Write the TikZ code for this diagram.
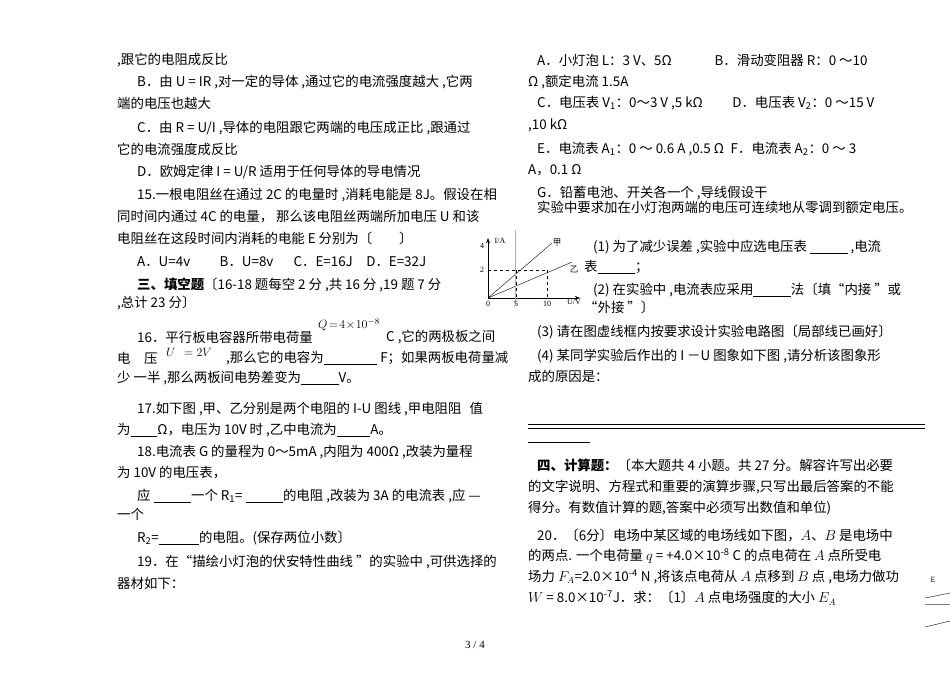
\documentclass[tikz,border=0pt]{standalone}
\usepackage{fontspec}
\setmainfont{Noto Sans CJK SC}
\newfontfamily\serif{Liberation Serif}
\usetikzlibrary{arrows.meta}
\newcommand{\blank}[1]{\underline{\hspace{#1}}}
\begin{document}
\begin{tikzpicture}[x=1pt,y=-1pt,
    tline/.style={anchor=west,inner sep=0pt,font=\fontsize{13.4}{15}\selectfont},
    small/.style={inner sep=1pt,font=\serif\fontsize{8}{9}\selectfont},
    axisline/.style={-Stealth,line width=0.5pt},
    guide/.style={dashed,line width=0.4pt}]
  \useasboundingbox (0,0) rectangle (950,672);
  % left column
  \node[tline] (l1) at (117,60) {,跟它的电阻成反比};
  \node[tline] (l2) at (137,82) {B．由 U = IR ,对一定的导体 ,通过它的电流强度越大 ,它两};
  \node[tline] (l3) at (117,103) {端的电压也越大};
  \node[tline] (l4) at (137,128) {C．由 R = U/I ,导体的电阻跟它两端的电压成正比 ,跟通过};
  \node[tline] (l5) at (117,149) {它的电流强度成反比};
  \node[tline] (l6) at (137,172) {D．欧姆定律 I = U/R 适用于任何导体的导电情况};
  \node[tline] (l7) at (137,195) {15.一根电阻丝在通过 2C 的电量时 ,消耗电能是 8J。假设在相};
  \node[tline] (l8) at (117,217) {同时间内通过 4C 的电量， 那么该电阻丝两端所加电压 U 和该};
  \node[tline] (l9) at (117,238) {电阻丝在这段时间内消耗的电能 E 分别为〔\hspace{2em}〕};
  \node[tline] (l10) at (137,262) {A．U=4v\hspace{2.2em}B．U=8v\hspace{1.5em}C．E=16J\hspace{1em}D．E=32J};
  \node[tline] (l11) at (137,285) {\textbf{三、填空题}〔16-18 题每空 2 分 ,共 16 分 ,19 题 7 分};
  \node[tline] (l12) at (117,303) {,总计 23 分〕};
  \node[tline] (l13) at (137,337) {16．平行板电容器所带电荷量};
  \node[anchor=west,inner sep=0pt,font=\fontsize{13}{14}\selectfont] (q) at (318,325) {$Q\!=\!4\!\times\!10^{-8}$};
  \node[tline] (l13b) at (386,337) {C ,它的两极板之间};
  \node[tline] (l14) at (117,358) {电\hspace{1em}压};
  \node[anchor=west,inner sep=0pt,font=\fontsize{12}{13}\selectfont] (u) at (166,352) {$U\ \ =2V$};
  \node[tline] (l14b) at (226,358) {,那么它的电容为\blank{4em} F；如果两板电荷量减};
  \node[tline] (l15) at (117,378) {少 一半 ,那么两板间电势差变为\blank{2.8em}V。};
  \node[tline] (l16) at (137,409) {17.如下图 ,甲、乙分别是两个电阻的 I-U 图线 ,甲电阻阻\hspace{0.6em}值};
  \node[tline] (l17) at (117,430) {为\blank{2em}Ω，电压为 10V 时 ,乙中电流为\blank{2.5em}A。};
  \node[tline] (l18) at (137,452) {18.电流表 G 的量程为 0～5mA ,内阻为 400Ω ,改装为量程};
  \node[tline] (l19) at (117,473) {为 10V 的电压表，};
  \node[tline] (l20) at (137,496) {应 \blank{2.8em}一个 R\textsubscript{1}= \blank{2.8em}的电阻 ,改装为 3A 的电流表 ,应 —};
  \node[tline] (l21) at (117,514) {一个};
  \node[tline] (l22) at (137,538) {R\textsubscript{2}=\blank{3em}的电阻。(保存两位小数〕};
  \node[tline] (l23) at (137,562) {19．在“描绘小灯泡的伏安特性曲线 ”的实验中 ,可供选择的};
  \node[tline] (l24) at (117,583) {器材如下：};
  % right column
  \node[tline] (r1) at (537,60) {A．小灯泡 L：3 V、5Ω\hspace{3.2em}B．滑动变阻器 R：0 ～10};
  \node[tline] (r2) at (528,82) {Ω ,额定电流 1.5A};
  \node[tline] (r3) at (537,103) {C．电压表 V\textsubscript{1}：0～3 V ,5 kΩ\hspace{2.2em}D．电压表 V\textsubscript{2}：0 ～15 V};
  \node[tline] (r4) at (528,125) {,10 kΩ};
  \node[tline] (r5) at (537,149) {E．电流表 A\textsubscript{1}：0 ～ 0.6 A ,0.5 Ω\hspace{0.5em}F．电流表 A\textsubscript{2}：0 ～ 3};
  \node[tline] (r6) at (528,170) {A，0.1 Ω};
  \node[tline] (r7) at (537,193) {G．铅蓄电池、开关各一个 ,导线假设干};
  \node[tline] (r8) at (537,207) {实验中要求加在小灯泡两端的电压可连续地从零调到额定电压。};
  \node[tline] (r9) at (593,247) {(1) 为了减少误差 ,实验中应选电压表 \blank{2.8em} ,电流};
  \node[tline] (r10) at (584,267) {表\blank{2.8em}；};
  \node[tline] (r11) at (593,290) {(2) 在实验中 ,电流表应采用\blank{2.8em}法〔填“内接 ”或};
  \node[tline] (r12) at (584,307) {“外接 ”〕};
  \node[tline] (r13) at (537,332) {(3) 请在图虚线框内按要求设计实验电路图〔局部线已画好〕};
  \node[tline] (r14) at (537,356) {(4) 某同学实验后作出的 I －U 图象如下图 ,请分析该图象形};
  \node[tline] (r15) at (528,376) {成的原因是：};
  \draw[line width=0.6pt] (528,424) -- (925,424) (528,428) -- (925,428);
  \draw[line width=0.8pt] (528,442) -- (590,442);
  \node[tline] (r16) at (537,465) {\textbf{四、计算题：}〔本大题共 4 小题。共 27 分。解容许写出必要};
  \node[tline] (r17) at (528,487) {的文字说明、方程式和重要的演算步骤,只写出最后答案的不能};
  \node[tline] (r18) at (528,508) {得分。有数值计算的题,答案中必须写出数值和单位)};
  \node[tline] (r19) at (537,535) {20．〔6分〕电场中某区域的电场线如下图，$A$、$B$ 是电场中};
  \node[tline] (r20) at (528,556) {的两点. 一个电荷量 $q$ = +4.0×10\textsuperscript{-8} C 的点电荷在 $A$ 点所受电};
  \node[tline] (r21) at (528,577) {场力 $F_A$=2.0×10\textsuperscript{-4} N ,将该点电荷从 $A$ 点移到 $B$ 点 ,电场力做功};
  \node[tline] (r22) at (528,598) {$W$ = 8.0×10\textsuperscript{-7}J．求：〔1〕$A$ 点电场强度的大小 $E_A$};
  % I-U graph
  \coordinate (o) at (488,298);
  \draw[axisline] (o) -- (580,298);
  \draw[axisline] (o) -- (488,238);
  \draw[line width=0.4pt] (o) -- (552,243) (o) -- (572,262);
  \draw[guide] (488,270) -- (547,270) (516,270) -- (516,298) (547,270) -- (547,298);
  \draw[gray!60,line width=1pt] (515,230) -- (515,305);
  \node[small] (ia) at (500,241) {I/A};
  \node[small] (uv) at (574,302) {U/V};
  \node[small] (y4) at (482,246) {4};
  \node[small] (y2) at (482,270) {2};
  \node[small] (x0) at (488,304) {0};
  \node[small] (x5) at (516,304) {5};
  \node[small] (x10) at (547,304) {10};
  \node[font=\fontsize{8.5}{9}\selectfont,inner sep=0pt] (jia) at (557,243) {甲};
  \node[font=\fontsize{8.5}{9}\selectfont,inner sep=0pt] (yi) at (574,269) {乙};
  % field lines corner
  \node[inner sep=1pt,font=\serif\fontsize{8}{9}\selectfont] (e) at (933,580) {E};
  \draw[line width=0.4pt] (925,598) -- (950,593) (925,627) -- (950,621);
  \draw[gray,line width=1pt] (925,604) -- (950,604);
  % page number
  \node[font=\serif\fontsize{11}{12}\selectfont] (page) at (475,645) {3 / 4};
\end{tikzpicture}
\end{document}
